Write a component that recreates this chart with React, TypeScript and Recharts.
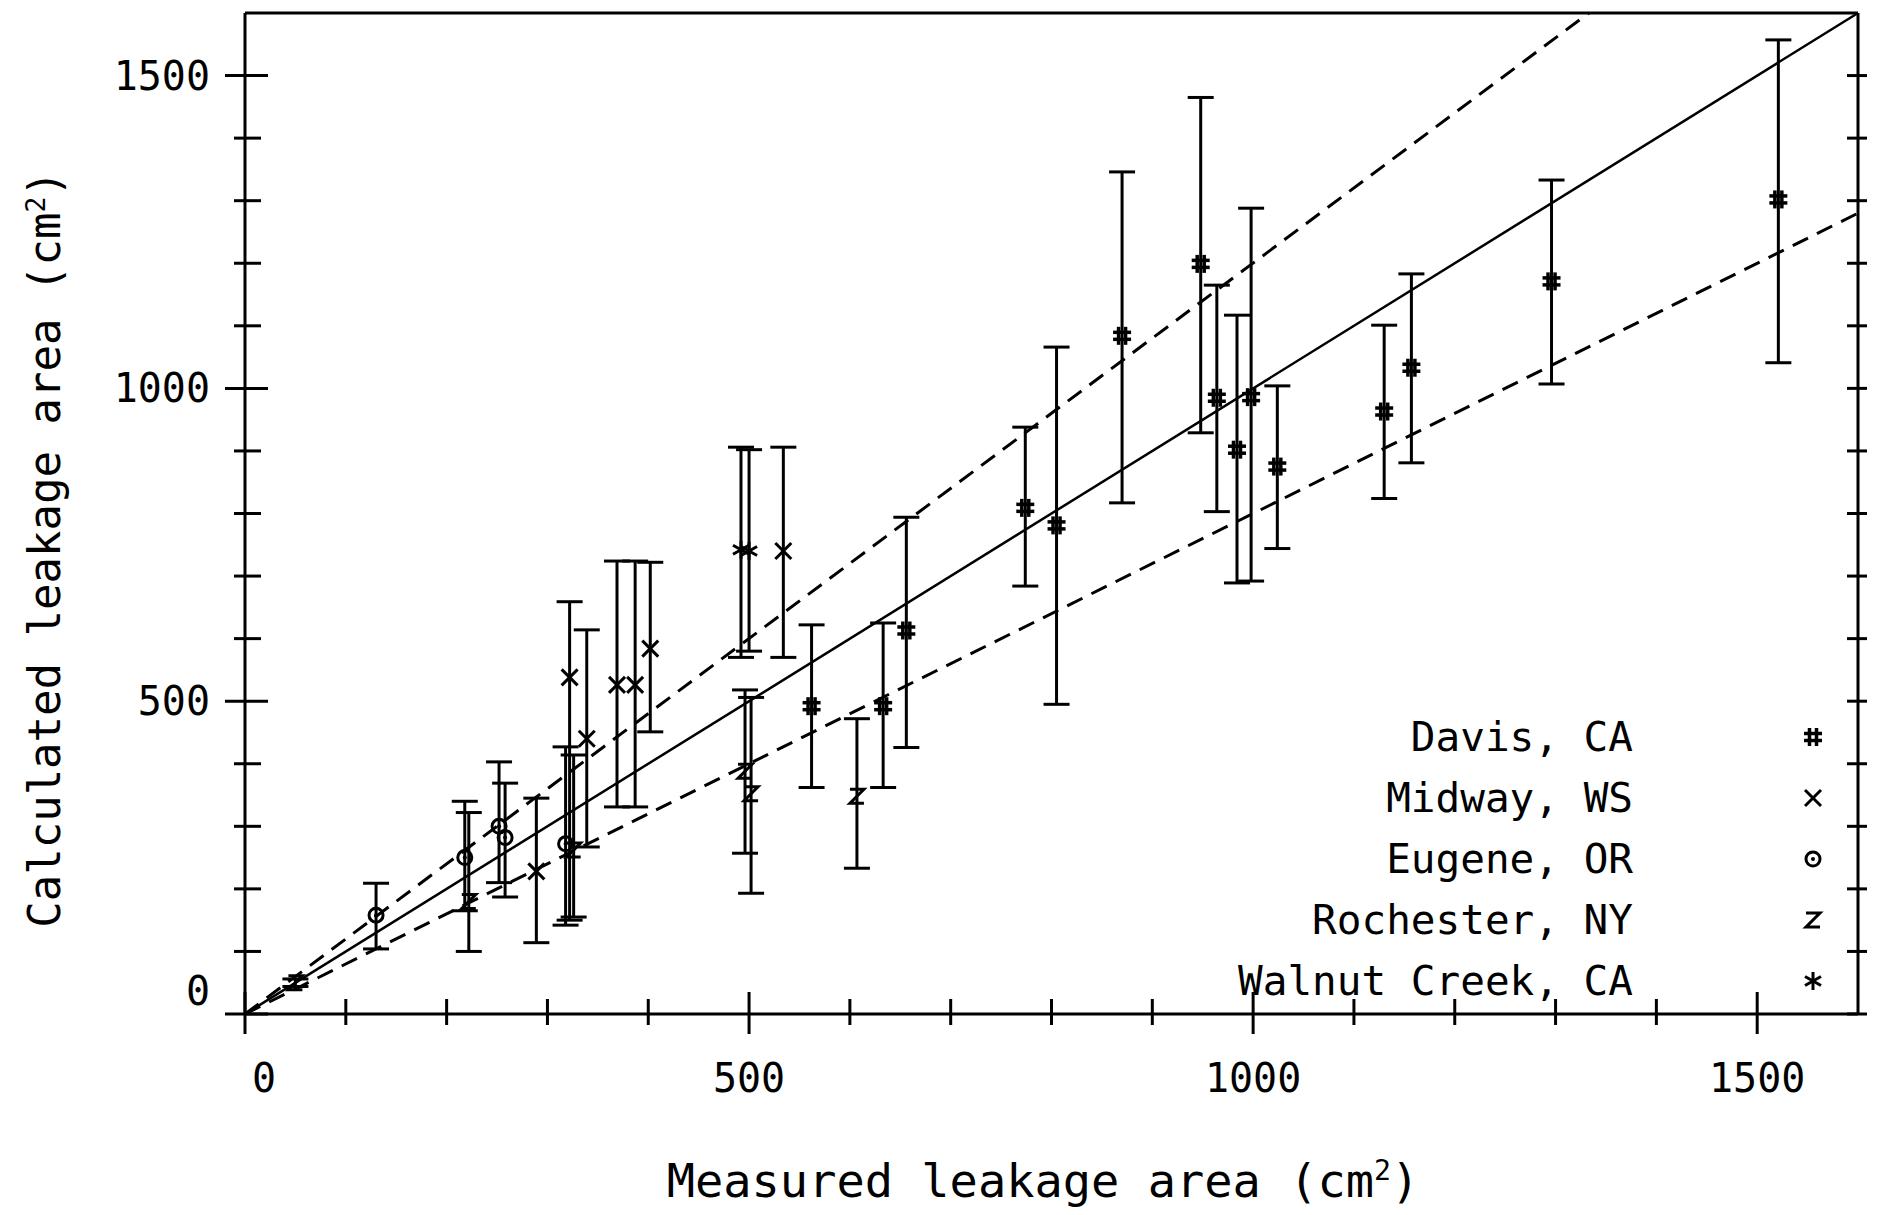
import React from 'react';
import { ScatterChart, Scatter, XAxis, YAxis, ErrorBar, ReferenceLine, Legend } from 'recharts';

// axis ticks every 100, labels every 500
const axisTicks = [0, 100, 200, 300, 400, 500, 600, 700, 800, 900, 1000, 1100, 1200, 1300, 1400, 1500];
const labeledTicks = [0, 500, 1000, 1500];

// Davis, CA (#)
const davisX = [562, 633, 656, 774, 805, 870, 948, 964, 984, 998, 1024, 1130, 1157, 1296, 1521];
const davisY = [492, 492, 613, 809, 781, 1084, 1199, 985, 902, 986, 875, 963, 1033, 1171, 1302];
const davisLow = [362, 362, 426, 684, 495, 817, 929, 803, 689, 692, 744, 824, 881, 1007, 1041];
const davisHigh = [622, 625, 794, 938, 1066, 1346, 1465, 1165, 1117, 1288, 1004, 1101, 1183, 1333, 1557];

// Midway, WS (x)
const midwayX = [289, 322, 339, 369, 387, 402, 534];
const midwayY = [228, 538, 440, 526, 526, 584, 740];
const midwayLow = [114, 150, 267, 331, 331, 451, 570];
const midwayHigh = [345, 659, 614, 724, 724, 722, 906];

// Eugene, OR (o)
const eugeneX = [130, 218, 252, 258, 318];
const eugeneY = [158, 250, 300, 282, 272];
const eugeneLow = [104, 165, 210, 187, 142];
const eugeneHigh = [209, 340, 403, 369, 427];

// Rochester, NY (z)
const rochesterX = [50, 222, 326, 496, 502, 607];
const rochesterY = [50, 180, 262, 388, 352, 348];
const rochesterLow = [44, 100, 155, 257, 193, 233];
const rochesterHigh = [56, 322, 414, 518, 506, 472];

// Walnut Creek, CA (*)
const walnutX = [492, 500];
const walnutY = [742, 740];
const walnutLow = [570, 580];
const walnutHigh = [906, 902];

// reference lines: 1:1 and +/-20%
const identityLine = [{ x: 0, y: 0 }, { x: 1600, y: 1600 }];
const upperLine = [{ x: 0, y: 0 }, { x: 1333, y: 1600 }];
const lowerLine = [{ x: 0, y: 0 }, { x: 1600, y: 1280 }];

const legendNames = ['Davis, CA', 'Midway, WS', 'Eugene, OR', 'Rochester, NY', 'Walnut Creek, CA'];
const legendMarks = ['hash', 'cross', 'circle', 'zed', 'star'];

const FONT = '"DejaVu Sans Mono", monospace';

function build(xs: number[], ys: number[], lo: number[], hi: number[]) {
  return xs.map((x, i) => ({ x, y: ys[i], err: [ys[i] - lo[i], hi[i] - ys[i]] }));
}

function Mark({ cx, cy, kind }: { cx: number; cy: number; kind: string }) {
  const s = 9;
  if (kind === 'hash') {
    return (
      <g stroke="#000" strokeWidth={3.5}>
        <line x1={cx - 3.5} y1={cy - s} x2={cx - 3.5} y2={cy + s} />
        <line x1={cx + 3.5} y1={cy - s} x2={cx + 3.5} y2={cy + s} />
        <line x1={cx - s} y1={cy - 3.5} x2={cx + s} y2={cy - 3.5} />
        <line x1={cx - s} y1={cy + 3.5} x2={cx + s} y2={cy + 3.5} />
      </g>
    );
  }
  if (kind === 'cross') {
    return (
      <g stroke="#000" strokeWidth={3}>
        <line x1={cx - 8} y1={cy - 8} x2={cx + 8} y2={cy + 8} />
        <line x1={cx - 8} y1={cy + 8} x2={cx + 8} y2={cy - 8} />
      </g>
    );
  }
  if (kind === 'circle') {
    return (
      <g>
        <circle cx={cx} cy={cy} r={7} fill="none" stroke="#000" strokeWidth={3} />
        <circle cx={cx} cy={cy} r={2} fill="#000" />
      </g>
    );
  }
  if (kind === 'zed') {
    return (
      <path d={`M${cx - 7},${cy - 7} H${cx + 7} L${cx - 7},${cy + 7} H${cx + 7}`} fill="none" stroke="#000" strokeWidth={3} />
    );
  }
  return (
    <g stroke="#000" strokeWidth={3}>
      <line x1={cx} y1={cy - 9} x2={cx} y2={cy + 9} />
      <line x1={cx - 8} y1={cy - 4.5} x2={cx + 8} y2={cy + 4.5} />
      <line x1={cx - 8} y1={cy + 4.5} x2={cx + 8} y2={cy - 4.5} />
    </g>
  );
}

const shapeFor = (kind: string) => (p: any) => <Mark cx={p.cx} cy={p.cy} kind={kind} />;

function LeftTick(props: any) {
  const { x, y, payload } = props;
  const v = payload.value;
  const major = labeledTicks.includes(v);
  return (
    <g>
      <line x1={x - (major ? 20 : 11)} x2={x + (major ? 23 : 16)} y1={y} y2={y} stroke="#000" strokeWidth={3} />
      {major && (
        <text x={x - 35} y={y + (v === 0 ? -23 : 0) + 14} textAnchor="end" fontFamily={FONT} fontSize={40} fill="#000">
          {v}
        </text>
      )}
    </g>
  );
}

function BottomTick(props: any) {
  const { x, y, payload } = props;
  const v = payload.value;
  const major = labeledTicks.includes(v);
  return (
    <g>
      <line x1={x} x2={x} y1={y - (major ? 22 : 15)} y2={y + (major ? 20 : 11)} stroke="#000" strokeWidth={3} />
      {major && (
        <text x={x + (v === 0 ? 19 : 0)} y={y + 78} textAnchor="middle" fontFamily={FONT} fontSize={40} fill="#000">
          {v}
        </text>
      )}
    </g>
  );
}

function TopTick(props: any) {
  const { x, y } = props;
  return <line x1={x} x2={x} y1={y - 10} y2={y + 11} stroke="#000" strokeWidth={3} />;
}

function RightTick(props: any) {
  const { x, y } = props;
  return <line x1={x - 11} x2={x + 9} y1={y} y2={y} stroke="#000" strokeWidth={3} />;
}

function LegendBox() {
  return (
    <svg width={680} height={320}>
      {legendNames.map((name, i) => (
        <g key={name}>
          <text x={453} y={37 + i * 61 + 14} textAnchor="end" fontFamily={FONT} fontSize={41} fill="#000">
            {name}
          </text>
          <Mark cx={633} cy={37 + i * 61} kind={legendMarks[i]} />
        </g>
      ))}
    </svg>
  );
}

export default function App() {
  const axisLine = { stroke: '#000', strokeWidth: 3 };
  return (
    <div style={{ position: 'absolute', left: 0, top: 0, width: 1881, height: 1215, background: '#fff' }}>
      <ScatterChart width={1881} height={1215} margin={{ top: 0, right: 0, bottom: 0, left: 0 }}>
        <XAxis
          dataKey="x"
          type="number"
          domain={[0, 1600]}
          ticks={axisTicks}
          interval={0}
          height={201}
          tickSize={0}
          tickMargin={0}
          tickLine={false}
          axisLine={axisLine}
          tick={<BottomTick />}
          allowDataOverflow
        />
        <XAxis
          xAxisId="top"
          orientation="top"
          type="number"
          domain={[0, 1600]}
          ticks={axisTicks}
          interval={0}
          height={13}
          tickSize={0}
          tickMargin={0}
          tickLine={false}
          axisLine={axisLine}
          tick={<TopTick />}
          allowDataOverflow
        />
        <YAxis
          dataKey="y"
          type="number"
          domain={[0, 1600]}
          ticks={axisTicks}
          interval={0}
          width={245}
          tickSize={0}
          tickMargin={0}
          tickLine={false}
          axisLine={axisLine}
          tick={<LeftTick />}
          allowDataOverflow
        />
        <YAxis
          yAxisId="right"
          orientation="right"
          type="number"
          domain={[0, 1600]}
          ticks={axisTicks}
          interval={0}
          width={23}
          tickSize={0}
          tickMargin={0}
          tickLine={false}
          axisLine={axisLine}
          tick={<RightTick />}
          allowDataOverflow
        />
        <ReferenceLine segment={identityLine} stroke="#000" strokeWidth={2.5} />
        <ReferenceLine segment={upperLine} stroke="#000" strokeWidth={3} strokeDasharray="17 10" />
        <ReferenceLine segment={lowerLine} stroke="#000" strokeWidth={3} strokeDasharray="17 10" />
        <Legend
          layout="horizontal"
          verticalAlign="middle"
          align="center"
          wrapperStyle={{ position: 'absolute', left: 1180, top: 700, width: 680, height: 320 }}
          content={() => <LegendBox />}
        />
        <Scatter name="Davis, CA" data={build(davisX, davisY, davisLow, davisHigh)} shape={shapeFor('hash')} isAnimationActive={false}>
          <ErrorBar dataKey="err" direction="y" width={13} stroke="#000" strokeWidth={3} isAnimationActive={false} />
        </Scatter>
        <Scatter name="Midway, WS" data={build(midwayX, midwayY, midwayLow, midwayHigh)} shape={shapeFor('cross')} isAnimationActive={false}>
          <ErrorBar dataKey="err" direction="y" width={13} stroke="#000" strokeWidth={3} isAnimationActive={false} />
        </Scatter>
        <Scatter name="Eugene, OR" data={build(eugeneX, eugeneY, eugeneLow, eugeneHigh)} shape={shapeFor('circle')} isAnimationActive={false}>
          <ErrorBar dataKey="err" direction="y" width={13} stroke="#000" strokeWidth={3} isAnimationActive={false} />
        </Scatter>
        <Scatter name="Rochester, NY" data={build(rochesterX, rochesterY, rochesterLow, rochesterHigh)} shape={shapeFor('zed')} isAnimationActive={false}>
          <ErrorBar dataKey="err" direction="y" width={13} stroke="#000" strokeWidth={3} isAnimationActive={false} />
        </Scatter>
        <Scatter name="Walnut Creek, CA" data={build(walnutX, walnutY, walnutLow, walnutHigh)} shape={shapeFor('star')} isAnimationActive={false}>
          <ErrorBar dataKey="err" direction="y" width={13} stroke="#000" strokeWidth={3} isAnimationActive={false} />
        </Scatter>
      </ScatterChart>
      <div
        style={{
          position: 'absolute',
          left: 45,
          top: 549,
          transform: 'translate(-50%, -50%) rotate(-90deg)',
          whiteSpace: 'nowrap',
          fontFamily: FONT,
          fontSize: 44,
          lineHeight: 1,
        }}
      >
        Calculated leakage area (cm<sup style={{ fontSize: '0.6em' }}>2</sup>)
      </div>
      <div
        style={{
          position: 'absolute',
          left: 1043,
          top: 1180,
          transform: 'translate(-50%, -50%)',
          whiteSpace: 'nowrap',
          fontFamily: FONT,
          fontSize: 47,
          lineHeight: 1,
        }}
      >
        Measured leakage area (cm<sup style={{ fontSize: '0.6em' }}>2</sup>)
      </div>
    </div>
  );
}
